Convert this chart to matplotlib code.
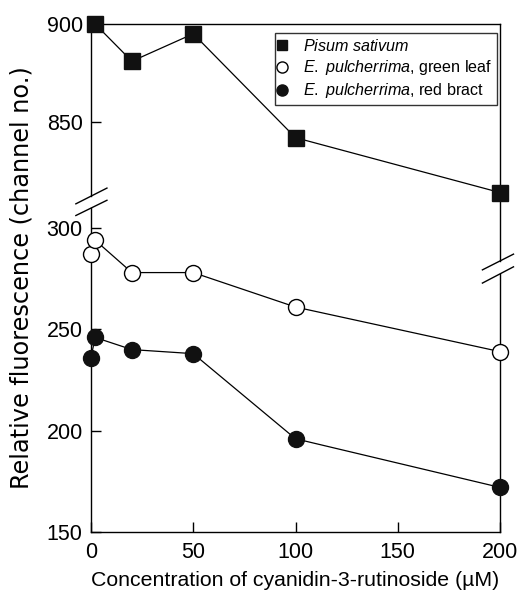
import matplotlib
matplotlib.use('Agg')
import matplotlib.pyplot as plt
from matplotlib.lines import Line2D
import numpy as np

plt.rcParams['font.family'] = ['Liberation Sans', 'DejaVu Sans']
plt.rcParams['mathtext.fontset'] = 'custom'
plt.rcParams['mathtext.it'] = 'Liberation Sans:italic'
plt.rcParams['mathtext.rm'] = 'Liberation Sans'

# data
conc_pisum = [2, 20, 50, 100, 200]
pisum = [900, 881, 895, 842, 814]
conc_euph = [0, 2, 20, 50, 100, 200]
green_leaf = [287, 294, 278, 278, 261, 239]
red_bract = [236, 246, 240, 238, 196, 172]

yticks = [150, 200, 250, 300, 850, 900]
xticks = [0, 50, 100, 150, 200]

# broken y axis: lower part 150-300, upper part ~810-900
TOP_S = 400.65
UP_SCALE = 0.967


def fwd(y):
    y = np.asarray(y, dtype=float)
    return np.where(y < 550, y, TOP_S - (900 - y) * UP_SCALE)


def inv(s):
    s = np.asarray(s, dtype=float)
    return np.where(s < 313.5, s, 900 - (TOP_S - s) / UP_SCALE)


fig = plt.figure(figsize=(5.19, 5.94), dpi=100)
ax = fig.add_axes([91 / 519, 62 / 594, 409 / 519, 508 / 594])
ax.set_yscale('function', functions=(fwd, inv))

ms = 11.5
ax.plot(conc_pisum, pisum, color='k', lw=0.9, marker='s', ms=ms,
        mfc='#111111', mec='#111111', clip_on=False, zorder=3)
ax.plot(conc_euph, green_leaf, color='k', lw=0.9, marker='o', ms=ms,
        mfc='white', mec='k', mew=1.0, clip_on=False, zorder=3)
ax.plot(conc_euph, red_bract, color='k', lw=0.9, marker='o', ms=ms,
        mfc='#111111', mec='#111111', clip_on=False, zorder=3)

ax.set_xlim(0, 200)
ax.set_ylim(150, 900)
ax.set_xticks(xticks)
ax.set_yticks(yticks)
ax.set_yticklabels([str(t) for t in yticks])
ax.yaxis.set_minor_locator(matplotlib.ticker.NullLocator())
ax.tick_params(direction='in', length=7, width=1.0, labelsize=15.5)
ax.tick_params(axis='y', pad=6)
ax.tick_params(axis='x', pad=7)

ax.set_xlabel('Concentration of cyanidin-3-rutinoside (\u00b5M)', fontsize=15.3, labelpad=6)
ax.set_ylabel('Relative fluorescence (channel no.)', fontsize=17.3, labelpad=9,
              family='DejaVu Sans')

# spines with breaks
for side in ['left', 'right']:
    ax.spines[side].set_visible(False)
ax.spines['top'].set_linewidth(1.0)
ax.spines['bottom'].set_linewidth(1.0)

tr = ax.transAxes
ax.add_line(Line2D([0, 0], [0, 0.637], transform=tr, color='k', lw=1.0, clip_on=False))
ax.add_line(Line2D([0, 0], [0.661, 1], transform=tr, color='k', lw=1.0, clip_on=False))
ax.add_line(Line2D([1, 1], [0, 0.508], transform=tr, color='k', lw=1.0, clip_on=False))
ax.add_line(Line2D([1, 1], [0.534, 1], transform=tr, color='k', lw=1.0, clip_on=False))

ax.add_line(Line2D([-0.037, 0.039], [0.646, 0.677], transform=tr, color='k', lw=1.0, clip_on=False))
ax.add_line(Line2D([-0.037, 0.039], [0.623, 0.653], transform=tr, color='k', lw=1.0, clip_on=False))
ax.add_line(Line2D([0.957, 1.033], [0.516, 0.547], transform=tr, color='k', lw=1.0, clip_on=False))
ax.add_line(Line2D([0.957, 1.033], [0.490, 0.522], transform=tr, color='k', lw=1.0, clip_on=False))

handles = [
    Line2D([], [], ls='none', marker='s', ms=7.5, mfc='#111111', mec='#111111'),
    Line2D([], [], ls='none', marker='o', ms=8, mfc='white', mec='k'),
    Line2D([], [], ls='none', marker='o', ms=8, mfc='#111111', mec='#111111'),
]
labels = [r'$\mathit{Pisum\ sativum}$',
          r'$\mathit{E.\ pulcherrima}$, green leaf',
          r'$\mathit{E.\ pulcherrima}$, red bract']
leg = ax.legend(handles, labels, loc='upper right', bbox_to_anchor=(0.9927, 0.9817),
                borderaxespad=0, fontsize=11.6, frameon=True, fancybox=False,
                edgecolor='k', handlelength=0.27, handletextpad=1.15,
                labelspacing=0.25, borderpad=0.3)
leg.get_frame().set_linewidth(1.0)

fig.savefig('out.png', dpi=100)
